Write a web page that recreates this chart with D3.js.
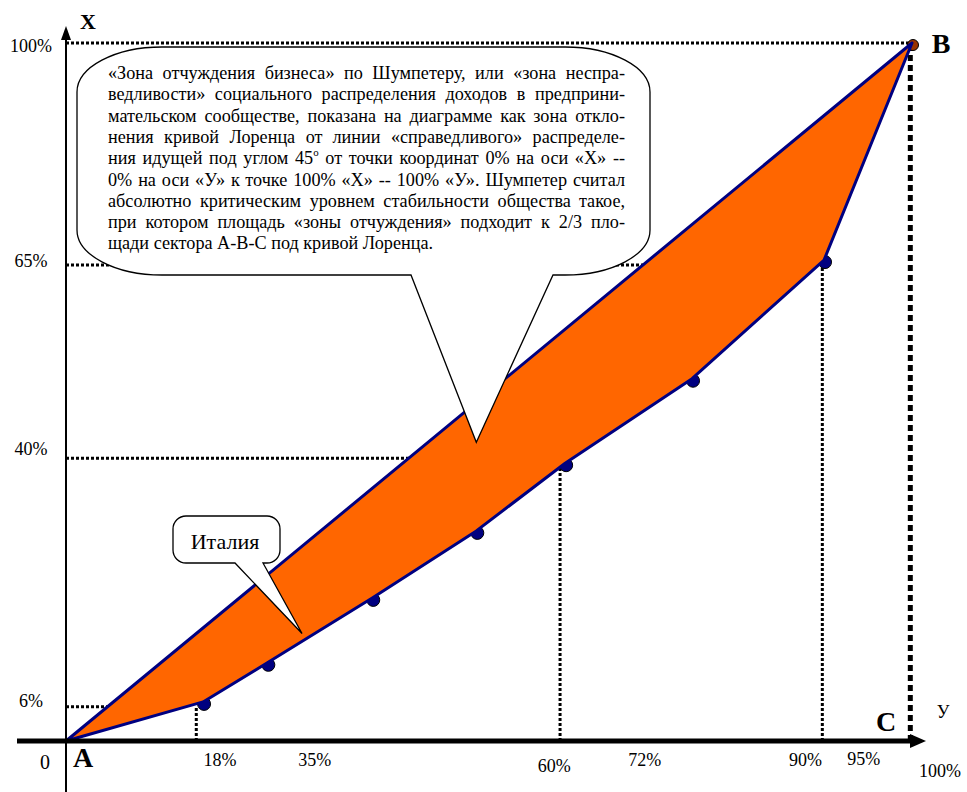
<!DOCTYPE html>
<html>
<head>
<meta charset="utf-8">
<script src="https://cdn.jsdelivr.net/npm/d3@7"></script>
<style>
body { margin: 0; background: #fff; }
svg text { font-family: 'Liberation Serif', 'Times New Roman', 'DejaVu Serif', serif; fill: #000; }
</style>
</head>
<body>
<svg width="967" height="792" font-family="Liberation Serif, Times New Roman, serif"></svg>
<script>
// points of the Lorenz curve, %
var lorenzX = [16.2, 23.8, 36.2, 48.5, 59.0, 74.0, 89.6, 100]
var lorenzY = [5.6, 11.2, 20.5, 30.1, 39.8, 51.9, 68.9, 100]

// tick labels and where they sit, in % of the axis
var xTickLabels = ['18%', '35%', '60%', '72%', '90%', '95%', '100%']
var xTickAt = [18.2, 29.4, 57.7, 68.4, 87.4, 94.3, 103.3]
var yTickLabels = ['100%', '65%', '40%', '6%']
var yTickAt = [99.6, 68.8, 41.8, 5.7]

// dotted guide lines
var hGuideY = [100, 68.2, 40.5, 4.9]
var hGuideTo = [100, 85, 50, 12]
var vGuideX = [15.4, 58.4, 89.4, 99.8]
var vGuideTo = [4.9, 39.8, 68.9, 100]

var noteLines = [
    '«Зона отчуждения бизнеса» по Шумпетеру, или «зона неспра-',
    'ведливости» социального распределения доходов в предприни-',
    'мательском сообществе, показана на диаграмме как зона откло-',
    'нения кривой Лоренца от линии «справедливого» распределе-',
    'ния идущей под углом 45^o от точки координат 0% на оси «Х» --',
    '0% на оси «У» к точке 100% «Х» -- 100% «У». Шумпетер считал',
    'абсолютно критическим уровнем стабильности общества такое,',
    'при котором площадь «зоны отчуждения» подходит к 2/3 пло-',
    'щади сектора А-В-С под кривой Лоренца.'
]
var noteTip = [48.5, 42.8]
var italyTip = [27.9, 15.4]

var serif = "'Liberation Serif', 'Times New Roman', serif"
var svg = d3.select('svg')

var x = d3.scaleLinear().domain([0, 100]).range([66, 912])
var y = d3.scaleLinear().domain([0, 100]).range([741, 43])

// guides
svg.selectAll('.hg')
    .data(hGuideY)
    .enter()
    .append('line')
    .attr('x1', x(0))
    .attr('x2', (d, i) => x(hGuideTo[i]))
    .attr('y1', (d) => y(d))
    .attr('y2', (d) => y(d))
    .attr('stroke', '#000')
    .attr('stroke-width', 3)
    .attr('stroke-dasharray', '3,2')

svg.selectAll('.vg')
    .data(vGuideX)
    .enter()
    .append('line')
    .attr('x1', (d) => x(d))
    .attr('x2', (d) => x(d))
    .attr('y1', y(0))
    .attr('y2', (d, i) => y(vGuideTo[i]))
    .attr('stroke', '#000')
    .attr('stroke-width', (d, i) => i == vGuideX.length - 1 ? 5 : 3)
    .attr('stroke-dasharray', (d, i) => i == vGuideX.length - 1 ? '6,4' : '3,2')

// dots under the curve
svg.selectAll('circle')
    .data(lorenzX)
    .enter()
    .append('circle')
    .attr('cx', (d) => x(d) + 1)
    .attr('cy', (d, i) => y(lorenzY[i]) + 2)
    .attr('r', (d, i) => i == lorenzX.length - 1 ? 5.5 : 6.5)
    .attr('fill', (d, i) => i == lorenzX.length - 1 ? '#993300' : '#000080')
    .attr('stroke', '#000')
    .attr('stroke-width', 1)

// zone between the 45 degree line and the Lorenz curve
var pts = [[0, 0]].concat(lorenzX.map((d, i) => [d, lorenzY[i]]))
svg.append('path')
    .attr('d', d3.line().x((d) => x(d[0])).y((d) => y(d[1]))(pts) + 'Z')
    .attr('fill', '#ff6600')
    .attr('stroke', '#000080')
    .attr('stroke-width', 3)
    .attr('stroke-linejoin', 'round')

// axes
svg.append('line')
    .attr('x1', x(0)).attr('x2', x(0))
    .attr('y1', 792).attr('y2', 38)
    .attr('stroke', '#000').attr('stroke-width', 2)
svg.append('path')
    .attr('d', 'M' + x(0) + ',26 L' + (x(0) - 5) + ',40 L' + (x(0) + 5) + ',40 Z')
    .attr('fill', '#000')

svg.append('line')
    .attr('x1', 17).attr('x2', 914)
    .attr('y1', y(0)).attr('y2', y(0))
    .attr('stroke', '#000').attr('stroke-width', 5)
svg.append('path')
    .attr('d', 'M926,' + y(0) + ' L910,' + (y(0) - 7) + ' L910,' + (y(0) + 7) + ' Z')
    .attr('fill', '#000')

// tick labels
var xDy = [25, 25, 31, 25, 25, 24, 36]
svg.selectAll('.xt')
    .data(xTickLabels)
    .enter()
    .append('text')
    .attr('x', (d, i) => x(xTickAt[i]))
    .attr('y', (d, i) => y(0) + xDy[i])
    .attr('text-anchor', 'middle')
    .attr('font-family', serif)
    .attr('font-size', 18)
    .text((d) => d)

svg.selectAll('.yt')
    .data(yTickLabels)
    .enter()
    .append('text')
    .attr('x', 31)
    .attr('y', (d, i) => y(yTickAt[i]) + 6)
    .attr('text-anchor', 'middle')
    .attr('font-family', serif)
    .attr('font-size', 18)
    .text((d) => d)

svg.append('text').attr('x', 45).attr('y', 769).attr('text-anchor', 'middle')
    .attr('font-family', serif).attr('font-size', 20).text('0')

// letters
var letters = [['A', 83, 767, 28, 'bold'], ['B', 941, 53, 28, 'bold'], ['C', 886, 731, 28, 'bold'],
    ['X', 88, 29, 22, 'bold'], ['У', 943, 718, 18, 'normal']]
letters.forEach((l) => {
    svg.append('text').attr('x', l[1]).attr('y', l[2]).attr('text-anchor', 'middle')
        .attr('font-family', serif)
        .attr('font-size', l[3]).attr('font-weight', l[4]).text(l[0])
})

// callout shapes
function callout(x0, y0, x1, y1, rx, ry, b1, b2, tip) {
    var tx = x(tip[0]), ty = y(tip[1])
    return 'M' + (x0 + rx) + ',' + y0 +
        ' H' + (x1 - rx) +
        ' A' + rx + ',' + ry + ' 0 0 1 ' + x1 + ',' + (y0 + ry) +
        ' V' + (y1 - ry) +
        ' A' + rx + ',' + ry + ' 0 0 1 ' + (x1 - rx) + ',' + y1 +
        ' H' + b2 + ' L' + tx + ',' + ty + ' L' + b1 + ',' + y1 +
        ' H' + (x0 + rx) +
        ' A' + rx + ',' + ry + ' 0 0 1 ' + x0 + ',' + (y1 - ry) +
        ' V' + (y0 + ry) +
        ' A' + rx + ',' + ry + ' 0 0 1 ' + (x0 + rx) + ',' + y0 + ' Z'
}

svg.append('path')
    .attr('d', callout(77, 47, 650, 275, 85, 45, 411, 553, noteTip))
    .attr('fill', '#fff').attr('stroke', '#000').attr('stroke-width', 1.3)

svg.append('path')
    .attr('d', callout(173, 516, 280, 563, 13, 13, 235, 263, italyTip))
    .attr('fill', '#fff').attr('stroke', '#000').attr('stroke-width', 1.3)

svg.append('text').attr('x', 225).attr('y', 549).attr('text-anchor', 'middle')
    .attr('font-family', serif).attr('font-size', 22).text('Италия')

// justified note text
var left = 108, right = 625, fs = 18.2
noteLines.forEach((line, li) => {
    var t = svg.append('text').attr('y', 79 + li * 21.3)
        .attr('font-family', serif).attr('font-size', fs)
    var words = line.split(' ')
    var spans = words.map((w) => {
        var s = t.append('tspan')
        if (w.indexOf('^') >= 0) {
            var p = w.split('^')
            s.append('tspan').text(p[0])
            s.append('tspan').attr('font-size', fs * 0.6).attr('baseline-shift', '75%').text(p[1])
        } else {
            s.text(w)
        }
        return s
    })
    var widths = spans.map((s) => s.node().getComputedTextLength())
    var total = d3.sum(widths)
    var last = li == noteLines.length - 1
    var gap = last ? fs * 0.25 : (right - left - total) / (words.length - 1)
    var cx = left
    spans.forEach((s, i) => {
        s.attr('x', cx)
        cx += widths[i] + gap
    })
})
</script>
</body>
</html>
